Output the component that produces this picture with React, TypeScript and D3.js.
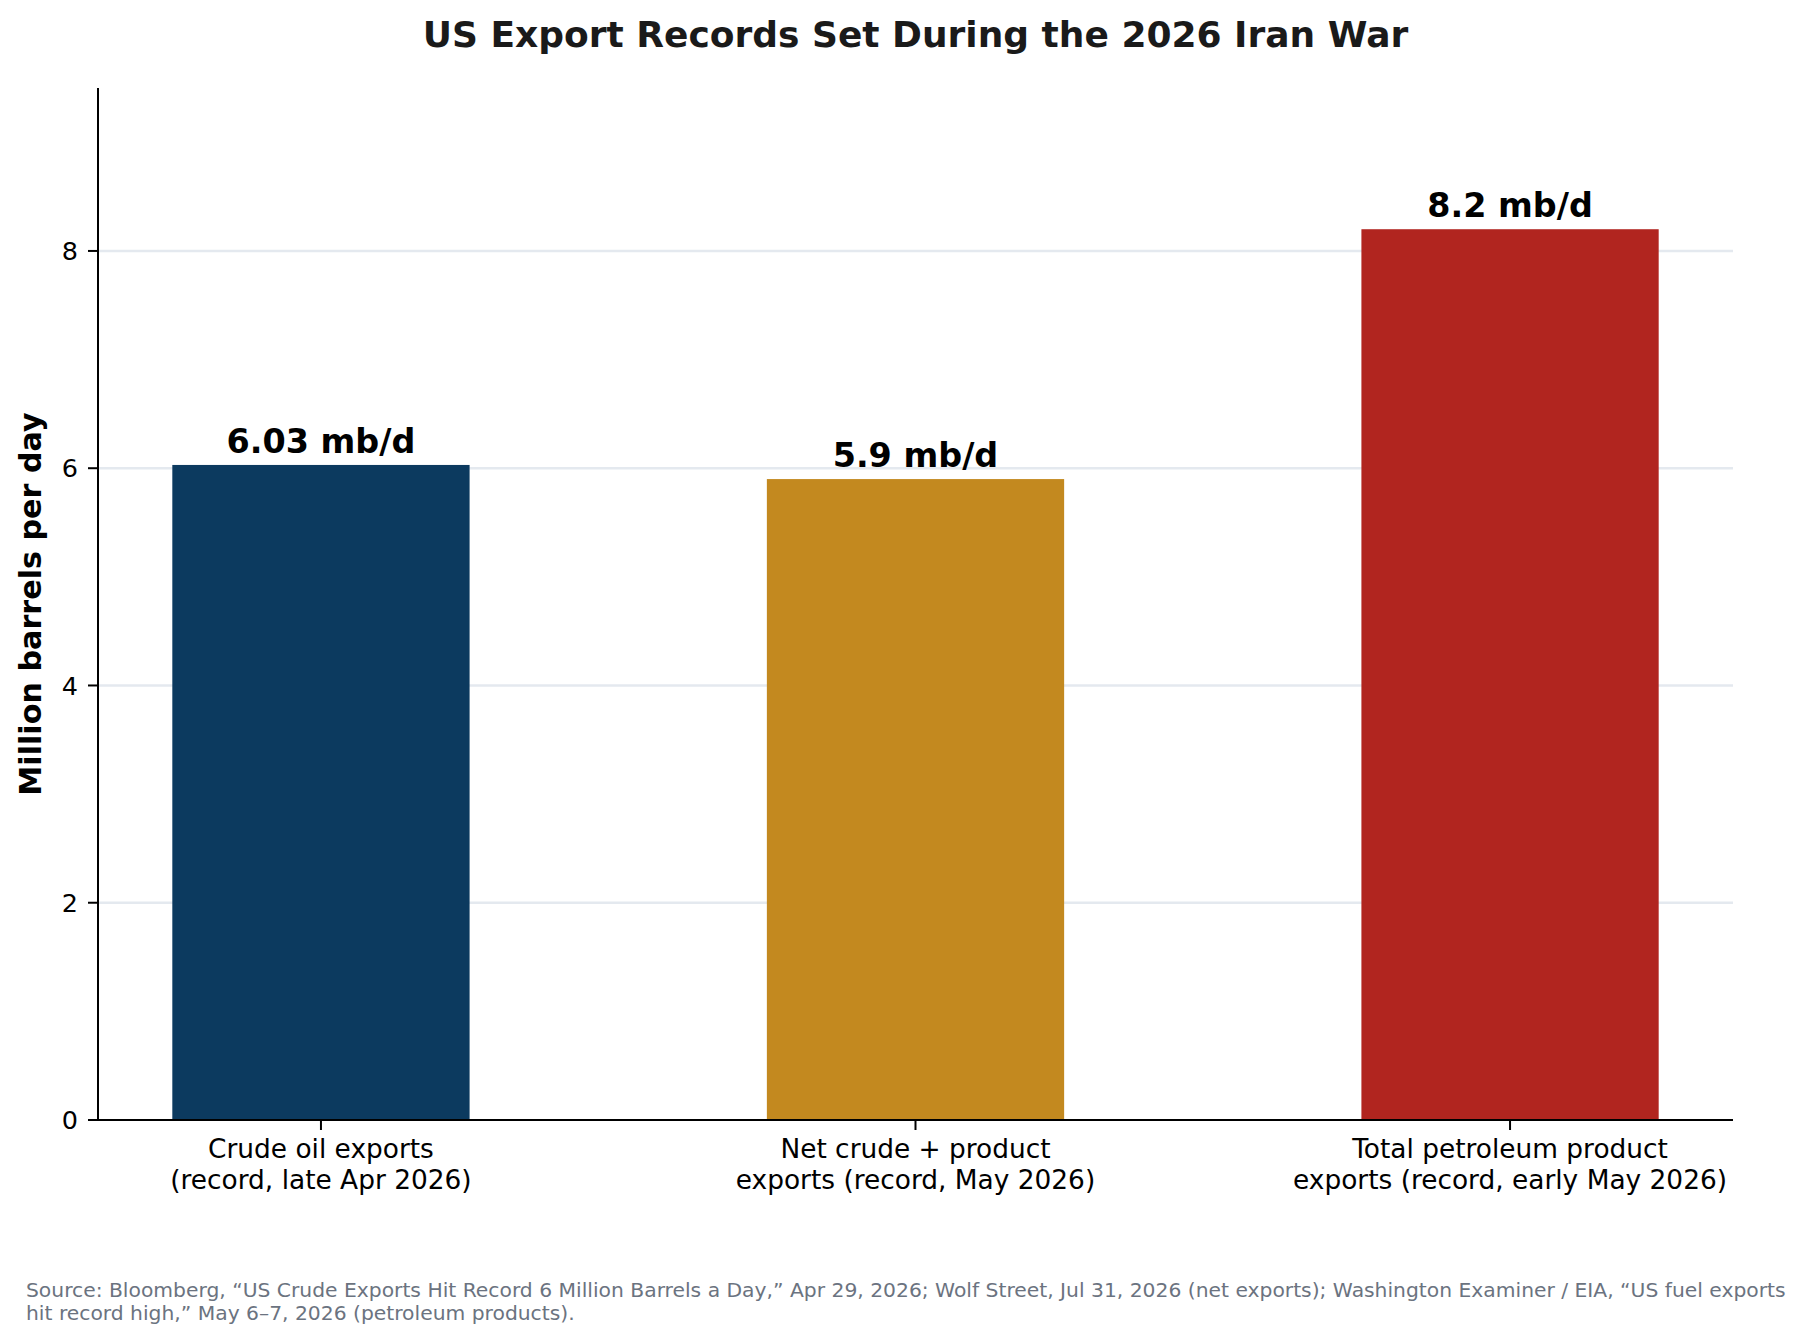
import React from "react";
import * as d3 from "d3";

const categories = [
  "Crude oil exports\n(record, late Apr 2026)",
  "Net crude + product\nexports (record, May 2026)",
  "Total petroleum product\nexports (record, early May 2026)",
];
const values = [6.03, 5.9, 8.2];
const valueLabels = ["6.03 mb/d", "5.9 mb/d", "8.2 mb/d"];
const barColors = ["#0c3a5f", "#c3891f", "#b1251f"];
const yTicks = [0, 2, 4, 6, 8];
const gridTicks = [2, 4, 6, 8];
const title = "US Export Records Set During the 2026 Iran War";
const yLabel = "Million barrels per day";
const footerLines = [
  "Source: Bloomberg, \u201cUS Crude Exports Hit Record 6 Million Barrels a Day,\u201d Apr 29, 2026; Wolf Street, Jul 31, 2026 (net exports); Washington Examiner / EIA, \u201cUS fuel exports",
  "hit record high,\u201d May 6\u20137, 2026 (petroleum products).",
];

const W = 1807;
const H = 1343;
const M = { left: 98, right: 1733, top: 88, bottom: 1120 };
const FONT = "'DejaVu Sans', sans-serif";

export default function App() {
  const x = d3.scaleLinear().domain([-0.375, 2.375]).range([M.left, M.right]);
  const y = d3.scaleLinear().domain([0, 9.5]).range([M.bottom, M.top]);
  const bw = x(0.5) - x(0);

  return (
    <svg
      width={W}
      height={H}
      viewBox={`0 0 ${W} ${H}`}
      style={{ position: "absolute", left: 0, top: 0, background: "#fff" }}
      fontFamily={FONT}
    >
      <rect x={0} y={0} width={W} height={H} fill="#fff" />
      <text
        x={(M.left + M.right) / 2}
        y={47}
        textAnchor="middle"
        fontSize={36}
        fontWeight="bold"
        fill="#1a1a1a"
      >
        {title}
      </text>

      {gridTicks.map((t) => (
        <line
          key={"g" + t}
          x1={M.left}
          x2={M.right}
          y1={y(t)}
          y2={y(t)}
          stroke="#e4e9ef"
          strokeWidth={2.5}
        />
      ))}

      {values.map((v, i) => (
        <rect
          key={"b" + i}
          x={x(i) - bw / 2}
          y={y(v)}
          width={bw}
          height={y(0) - y(v)}
          fill={barColors[i]}
        />
      ))}

      {values.map((v, i) => (
        <text
          key={"v" + i}
          x={x(i)}
          y={y(v) - 12}
          textAnchor="middle"
          fontSize={33.4}
          fontWeight="bold"
          fill="#000"
        >
          {valueLabels[i]}
        </text>
      ))}

      <line x1={M.left} x2={M.left} y1={M.top} y2={M.bottom} stroke="#000" strokeWidth={2} />
      <line x1={M.left - 1} x2={M.right} y1={M.bottom} y2={M.bottom} stroke="#000" strokeWidth={2} />

      {yTicks.map((t) => (
        <g key={"yt" + t}>
          <line x1={M.left - 10} x2={M.left} y1={y(t)} y2={y(t)} stroke="#000" strokeWidth={2} />
          <text
            x={M.left - 20}
            y={y(t)}
            dy="0.36em"
            textAnchor="end"
            fontSize={25.5}
            fill="#000"
          >
            {t}
          </text>
        </g>
      ))}

      {categories.map((c, i) => (
        <g key={"xt" + i}>
          <line x1={x(i)} x2={x(i)} y1={M.bottom} y2={M.bottom + 10} stroke="#000" strokeWidth={2} />
          {c.split("\n").map((line, j) => (
            <text
              key={j}
              x={x(i)}
              y={1158 + j * 31}
              textAnchor="middle"
              fontSize={26.4}
              fill="#000"
            >
              {line}
            </text>
          ))}
        </g>
      ))}

      <text
        transform={`translate(41, ${(M.top + M.bottom) / 2}) rotate(-90)`}
        textAnchor="middle"
        fontSize={30.2}
        fontWeight="bold"
        fill="#000"
      >
        {yLabel}
      </text>

      {footerLines.map((l, i) => (
        <text key={"f" + i} x={26} y={1297 + i * 23} fontSize={20.3} fill="#6b7380">
          {l}
        </text>
      ))}
    </svg>
  );
}
